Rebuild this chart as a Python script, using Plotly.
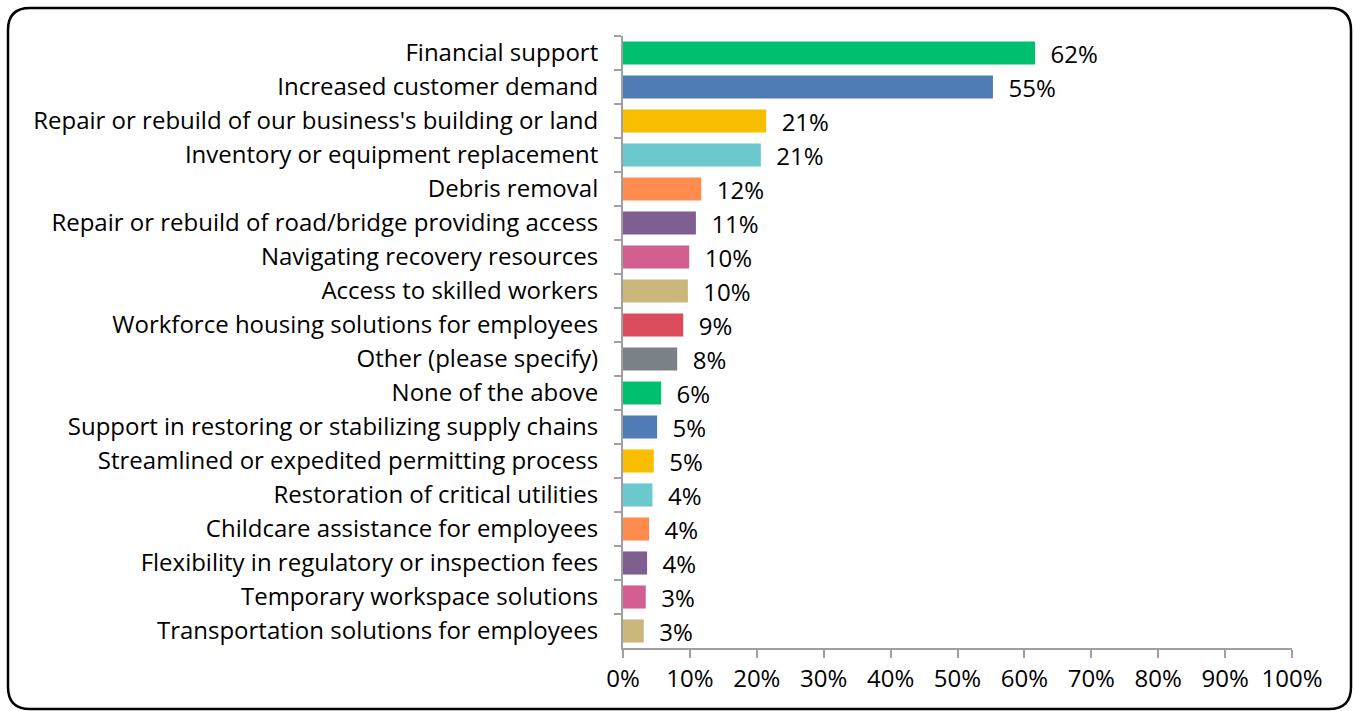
import plotly.graph_objects as go

# Survey responses: share of businesses naming each type of support
categories = [
    "Financial support",
    "Increased customer demand",
    "Repair or rebuild of our business's building or land",
    "Inventory or equipment replacement",
    "Debris removal",
    "Repair or rebuild of road/bridge providing access",
    "Navigating recovery resources",
    "Access to skilled workers",
    "Workforce housing solutions for employees",
    "Other (please specify)",
    "None of the above",
    "Support in restoring or stabilizing supply chains",
    "Streamlined or expedited permitting process",
    "Restoration of critical utilities",
    "Childcare assistance for employees",
    "Flexibility in regulatory or inspection fees",
    "Temporary workspace solutions",
    "Transportation solutions for employees",
]
shares = [0.616, 0.553, 0.214, 0.206, 0.117, 0.109, 0.099, 0.097, 0.090,
          0.081, 0.057, 0.051, 0.046, 0.044, 0.039, 0.036, 0.034, 0.031]

palette = ["#00BF6F", "#507CB6", "#F9BE00", "#6BC8CD", "#FF8B4F",
           "#7F5F90", "#D25F90", "#C9B77C", "#DB4D5C", "#7A8288"]
bar_colors = [palette[i % len(palette)] for i in range(len(categories))]

x_ticks = [i / 10 for i in range(11)]

FONT = "Open Sans"
W, H = 1354, 711
ML, MR, MT, MB = 623, 62, 36, 63

fig = go.Figure(
    go.Bar(
        x=shares,
        y=categories,
        orientation="h",
        marker=dict(color=bar_colors, line=dict(width=0)),
        texttemplate="  %{x:.0%}",
        textposition="outside",
        textfont=dict(family=FONT, size=24, color="#000000"),
        constraintext="none",
        cliponaxis=False,
        hoverinfo="skip",
    )
)

# rounded frame around the whole chart, expressed in paper coordinates
pw, ph = W - ML - MR, H - MT - MB


def px(X):
    return (X - ML) / pw


def py(Y):
    return (H - MB - Y) / ph


x0, y0, x1, y1, r = 8, 8, 1351, 709, 22
frame = (
    f"M {px(x0 + r)},{py(y0)} L {px(x1 - r)},{py(y0)} "
    f"Q {px(x1)},{py(y0)} {px(x1)},{py(y0 + r)} "
    f"L {px(x1)},{py(y1 - r)} Q {px(x1)},{py(y1)} {px(x1 - r)},{py(y1)} "
    f"L {px(x0 + r)},{py(y1)} Q {px(x0)},{py(y1)} {px(x0)},{py(y1 - r)} "
    f"L {px(x0)},{py(y0 + r)} Q {px(x0)},{py(y0)} {px(x0 + r)},{py(y0)} Z"
)

fig.update_layout(
    width=W,
    height=H,
    margin=dict(l=ML, r=MR, t=MT, b=MB, pad=0),
    paper_bgcolor="white",
    plot_bgcolor="white",
    bargap=0.32,
    showlegend=False,
    font=dict(family=FONT, size=24, color="#000000"),
    xaxis=dict(
        range=[0, 1],
        tickvals=x_ticks,
        tickformat=".0%",
        showgrid=False,
        zeroline=False,
        showline=True,
        linecolor="#A0A0A0",
        linewidth=2,
        ticks="outside",
        ticklen=8,
        tickwidth=2,
        tickcolor="#A0A0A0",
        tickfont=dict(family=FONT, size=24, color="#000000"),
        fixedrange=True,
    ),
    yaxis=dict(
        categoryorder="array",
        categoryarray=categories,
        autorange="reversed",
        showgrid=False,
        zeroline=False,
        showline=True,
        linecolor="#A0A0A0",
        linewidth=2,
        ticks="outside",
        tickson="boundaries",
        ticklen=7,
        tickwidth=2,
        tickcolor="#A0A0A0",
        ticklabelstandoff=18,
        tickfont=dict(family=FONT, size=24, color="#000000"),
        fixedrange=True,
    ),
    shapes=[
        dict(type="path", xref="paper", yref="paper", path=frame,
             line=dict(color="#000000", width=2.5), fillcolor="rgba(0,0,0,0)",
             layer="above")
    ],
)

fig.write_html("out.html", config={"displayModeBar": False})
